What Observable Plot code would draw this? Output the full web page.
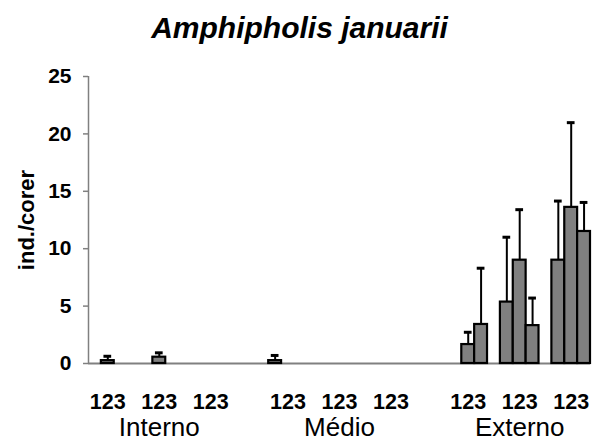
<!DOCTYPE html>
<html>
<head>
<meta charset="utf-8">
<script src="https://cdn.jsdelivr.net/npm/d3@7"></script>
<script src="https://cdn.jsdelivr.net/npm/@observablehq/plot@0.6"></script>
<style>
  html, body { margin: 0; padding: 0; background: #fff; }
  svg { display: block; }
</style>
</head>
<body>
<div id="chart"></div>
<script>
// ---- data ----
const title = "Amphipholis januarii";
const yLabel = "ind./corer";
const sites = ["Interno", "Médio", "Externo"];
const groupLabels = ["123", "123", "123"];   // three groups per site, each with stations 1,2,3
const stations = [1, 2, 3];
const yTicks = [0, 5, 10, 15, 20, 25];

// means (3 groups x 3 stations per site)
const internoMean = [0, 0.25, 0,   0, 0.55, 0,   0, 0, 0];
const internoErr  = [0, 0.38, 0,   0, 0.38, 0,   0, 0, 0];
const medioMean   = [0.25, 0, 0,   0, 0, 0,      0, 0, 0];
const medioErr    = [0.45, 0, 0,   0, 0, 0,      0, 0, 0];
const externoMean = [0, 1.65, 3.4,   5.35, 9.0, 3.3,   9.0, 13.6, 11.5];
const externoErr  = [0, 1.07, 4.9,   5.65, 4.4, 2.4,   5.15, 7.38, 2.53];

const meansBySite = [internoMean, medioMean, externoMean];
const errsBySite = [internoErr, medioErr, externoErr];

// ---- layout of category slots (bars touch; 1 empty slot between groups, 3 between sites) ----
const groupGap = 1, siteGap = 3;
const groupSpan = stations.length;
const siteSpan = groupLabels.length * (groupSpan + groupGap) - groupGap;
const sitePitch = siteSpan + siteGap;
const nSlots = sites.length * sitePitch - siteGap;

const rows = [];
sites.forEach((site, s) => {
  groupLabels.forEach((g, gi) => {
    stations.forEach((st, b) => {
      const k = gi * stations.length + b;
      rows.push({
        site, group: gi, station: st,
        slot: s * sitePitch + gi * (groupSpan + groupGap) + b,
        mean: meansBySite[s][k],
        err: errsBySite[s][k]
      });
    });
  });
});
const groups = [];
sites.forEach((site, s) => groupLabels.forEach((g, gi) => groups.push({
  label: g, center: s * sitePitch + gi * (groupSpan + groupGap) + groupSpan / 2
})));
const siteRows = sites.map((site, s) => ({site, center: s * sitePitch + siteSpan / 2}));

const bars = rows.filter(d => d.mean > 0);
const errs = rows.filter(d => d.err > 0);

const font = "'Liberation Sans', Arial, Helvetica, sans-serif";

const chart = Plot.plot({
  width: 593,
  height: 440,
  marginLeft: 88,
  marginRight: 3,
  marginTop: 76,
  marginBottom: 77,
  style: {fontFamily: font, background: "#fff", color: "black", overflow: "visible"},
  x: {domain: [0, nSlots], axis: null},
  y: {domain: [0, 25], axis: null},
  marks: [
    Plot.ruleX([0], {stroke: "#808080", strokeWidth: 1.5}),
    Plot.ruleY([0], {stroke: "#808080", strokeWidth: 2}),
    Plot.axisY({
      ticks: yTicks, tickSize: 5, tickPadding: 12, label: null,
      stroke: "#808080", strokeWidth: 1.5, fill: "black",
      fontSize: 21, fontWeight: "bold", fontFamily: font
    }),
    Plot.rectY(bars, {
      x1: "slot", x2: d => d.slot + 1, y: "mean",
      fill: "#808080", stroke: "black", strokeWidth: 2.2
    }),
    Plot.ruleX(errs, {
      x: d => d.slot + 0.5, y1: "mean", y2: d => d.mean + d.err,
      stroke: "black", strokeWidth: 2
    }),
    Plot.ruleY(errs, {
      y: d => d.mean + d.err, x1: d => d.slot + 0.5 - 0.3, x2: d => d.slot + 0.5 + 0.3,
      stroke: "black", strokeWidth: 3
    }),
    Plot.text(groups, {
      x: "center", text: "label", frameAnchor: "bottom", lineAnchor: "bottom",
      dy: 45, fontSize: 21.5, fontWeight: "bold", fill: "black"
    }),
    Plot.text(siteRows, {
      x: "center", text: "site", frameAnchor: "bottom", lineAnchor: "bottom",
      dy: 72, fontSize: 26, fill: "black"
    }),
    Plot.text([yLabel], {
      frameAnchor: "left", rotate: -90, dx: -62, textAnchor: "middle", lineAnchor: "middle",
      fontSize: 22, fontWeight: "bold", fill: "black"
    }),
    Plot.text([title], {
      frameAnchor: "top", dx: -40, dy: -39, lineAnchor: "bottom", textAnchor: "middle",
      fontSize: 30, fontWeight: "bold", fontStyle: "italic", fill: "black"
    })
  ]
});
document.getElementById("chart").appendChild(chart);
</script>
</body>
</html>
